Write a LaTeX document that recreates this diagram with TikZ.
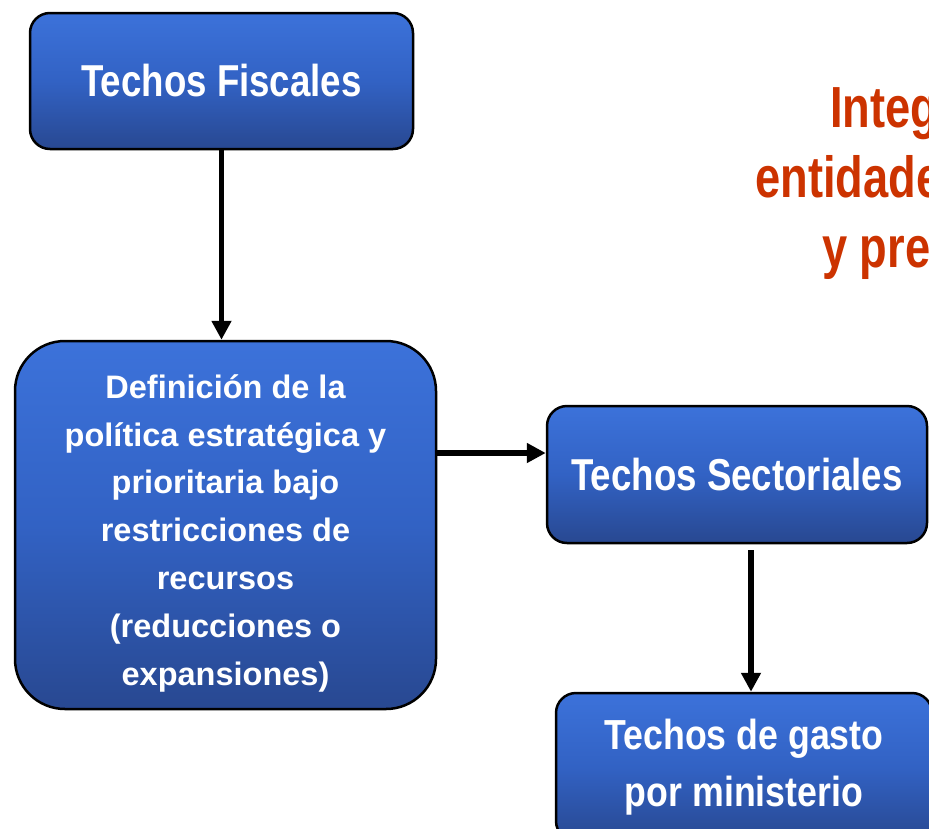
\documentclass[tikz,border=0pt]{standalone}
\usepackage{fontspec}
\setmainfont{Liberation Sans}
\newfontfamily\narrowfont[FakeStretch=0.82]{Liberation Sans}
\newfontfamily\gastofont[FakeStretch=0.85]{Liberation Sans}
\newfontfamily\redfont[FakeStretch=0.78]{Liberation Sans}
\usetikzlibrary{arrows.meta,shadings}
\definecolor{boxtop}{RGB}{60,114,218}
\definecolor{boxmid}{RGB}{50,98,196}
\definecolor{boxbot}{RGB}{40,72,145}
\definecolor{titlered}{RGB}{204,51,0}
\begin{document}
\begin{tikzpicture}[x=1pt,y=-1pt,
  box/.style={draw=black, line width=2.5pt, top color=boxtop, bottom color=boxbot,
    middle color=boxmid, text=white, align=center, inner sep=0pt},
  link/.style={line width=5.5pt, -{Triangle[length=19pt,width=19pt]}},
  redline/.style={text=titlered, anchor=base west, inner sep=0pt,
    font=\redfont\bfseries\fontsize{58}{70}\selectfont}]
\useasboundingbox (0,0) rectangle (929,828);
\clip (0,0) rectangle (929,828);

\node[box, rounded corners=20pt, minimum width=383pt, minimum height=136pt,
  font=\narrowfont\bfseries\fontsize{44.7}{54}\selectfont] (fiscal) at (221.5,81) {Techos Fiscales};

\node[box, rounded corners=50pt, minimum width=421pt, minimum height=368pt,
  font=\bfseries\fontsize{32.5}{47.8}\selectfont] (def) at (225.5,525)
  {\rule{0pt}{40pt}Definición de la\\política estratégica y\\prioritaria bajo\\restricciones de\\recursos\\(reducciones o\\expansiones)};

\node[box, rounded corners=20pt, minimum width=380pt, minimum height=137pt,
  font=\narrowfont\bfseries\fontsize{44.7}{54}\selectfont] (sector) at (737,474.5) {Techos Sectoriales};

\node[box, rounded corners=20pt, minimum width=376pt, minimum height=148pt,
  font=\gastofont\bfseries\fontsize{42}{57}\selectfont] (gasto) at (744,767) {Techos de gasto\\por ministerio};

\node[redline] (t1) at (830,127) {Integ};
\node[redline] (t2) at (755,197) {entidade};
\node[redline] (t3) at (822,267) {y pre};

\coordinate (a2) at (0,453);
\coordinate (a3) at (751,0);
\draw[link] (fiscal) -- (fiscal |- def.north);
\draw[link] (def.east |- a2) -- (sector.west |- a2);
\draw[link, shorten <=6pt] (sector.south -| a3) -- (gasto.north -| a3);
\end{tikzpicture}
\end{document}
